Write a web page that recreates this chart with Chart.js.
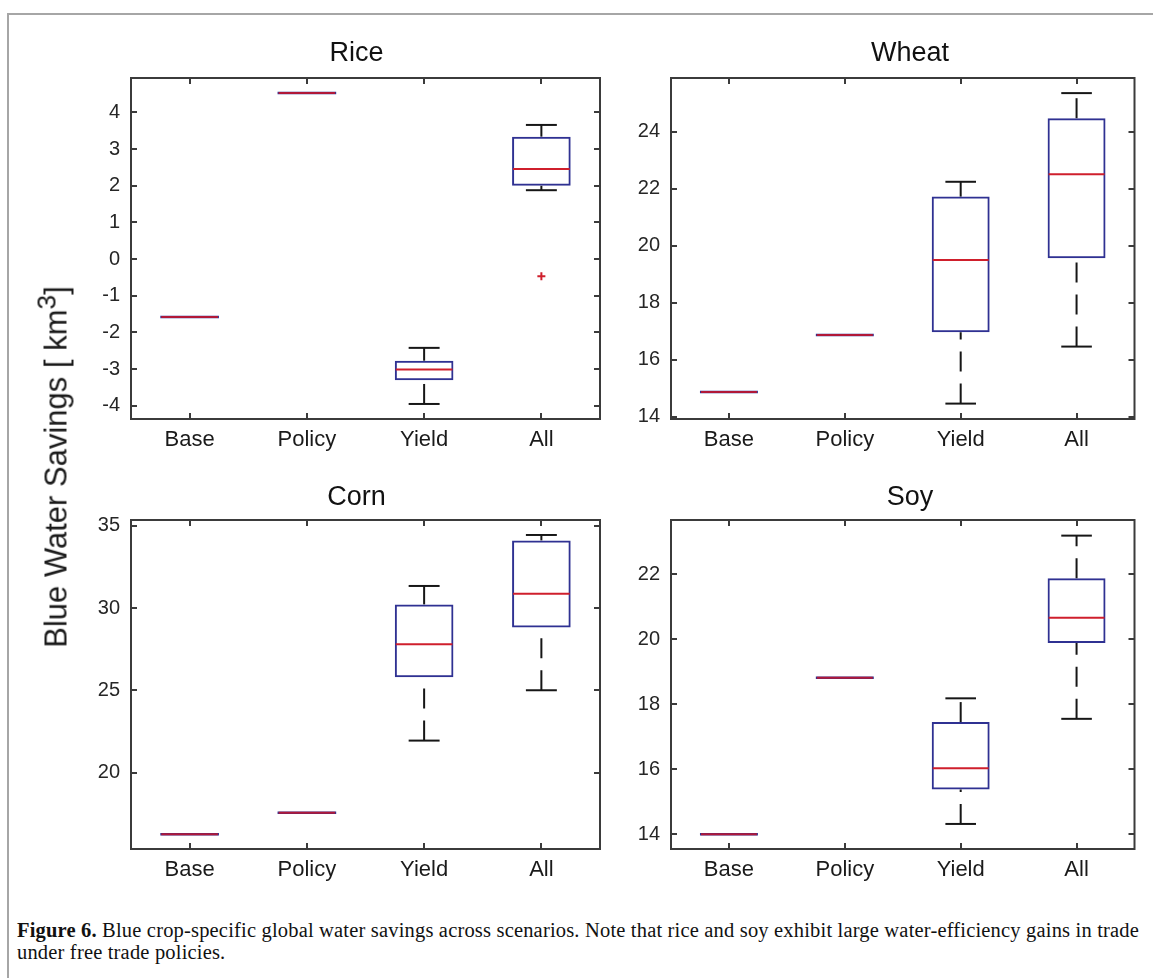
<!DOCTYPE html>
<html>
<head>
<meta charset="utf-8">
<script src="https://cdn.jsdelivr.net/npm/chart.js@4.4.1/dist/chart.umd.min.js"></script>
<style>
html,body{margin:0;padding:0;background:#fff;overflow:hidden;width:1153px;height:978px;position:relative;}
#frame{position:absolute;left:7px;top:13px;width:1200px;height:1000px;border-left:2px solid #a6a6a6;border-top:2px solid #a6a6a6;}
canvas{position:absolute;}
#ylab{position:absolute;left:56px;top:467px;transform:translate(-50%,-50%) rotate(-90deg);white-space:nowrap;font-family:'Liberation Sans',Arial,sans-serif;font-size:31px;line-height:1;color:#1a1a1a;}
#ylab sup{font-size:0.85em;vertical-align:0.42em;line-height:0;}
#caption{position:absolute;left:17px;top:919px;font-family:'Liberation Serif','Times New Roman',serif;font-size:20.5px;line-height:22px;color:#111;}
#caption div{white-space:nowrap;}
</style>
</head>
<body>
<div id="frame"></div>
<canvas id="cRice"></canvas>
<canvas id="cWheat"></canvas>
<canvas id="cCorn"></canvas>
<canvas id="cSoy"></canvas>
<div id="ylab">Blue Water Savings [ km<sup>3</sup>]</div>
<div id="caption"><div id="cap1"><b>Figure 6.</b> Blue crop-specific global water savings across scenarios. Note that rice and soy exhibit large water-efficiency gains in trade</div><div id="cap2">under free trade policies.</div></div>
<script>
// ---- categories ----
const categories = ['Base', 'Policy', 'Yield', 'All'];

// ---- Rice ----
const riceLow      = [-1.58, 4.53, -3.95, 1.88];
const riceQ1       = [-1.58, 4.53, -3.30, 2.00];
const riceMedian   = [-1.58, 4.53, -3.01, 2.46];
const riceQ3       = [-1.58, 4.53, -2.77, 3.34];
const riceHigh     = [-1.58, 4.53, -2.42, 3.66];
const riceOutliers = [null, null, null, -0.47];
const riceTicks    = [-4, -3, -2, -1, 0, 1, 2, 3, 4];
const riceRange    = [-4.36, 4.94];

// ---- Wheat ----
const wheatLow      = [14.87, 16.87, 14.46, 16.46];
const wheatQ1       = [14.87, 16.87, 16.96, 19.56];
const wheatMedian   = [14.87, 16.87, 19.50, 22.50];
const wheatQ3       = [14.87, 16.87, 21.72, 24.47];
const wheatHigh     = [14.87, 16.87, 22.24, 25.35];
const wheatOutliers = [null, null, null, null];
const wheatTicks    = [14, 16, 18, 20, 22, 24];
const wheatRange    = [13.92, 25.88];

// ---- Corn ----
const cornLow      = [16.24, 17.55, 21.94, 25.00];
const cornQ1       = [16.24, 17.55, 25.79, 28.81];
const cornMedian   = [16.24, 17.55, 27.80, 30.87];
const cornQ3       = [16.24, 17.55, 30.22, 34.11];
const cornHigh     = [16.24, 17.55, 31.34, 34.44];
const cornOutliers = [null, null, null, null];
const cornTicks    = [20, 25, 30, 35];
const cornRange    = [15.35, 35.35];

// ---- Soy ----
const soyLow      = [14.00, 18.81, 14.32, 17.55];
const soyQ1       = [14.00, 18.81, 15.38, 19.88];
const soyMedian   = [14.00, 18.81, 16.03, 20.66];
const soyQ3       = [14.00, 18.81, 17.45, 21.87];
const soyHigh     = [14.00, 18.81, 18.18, 23.18];
const soyOutliers = [null, null, null, null];
const soyTicks    = [14, 16, 18, 20, 22];
const soyRange    = [13.55, 23.66];

// ---- styles ----
const BLUE = '#2f3192';
const RED = '#cf1f2c';
const BLACK = '#161616';
const AXIS = '#3b3b3b';
const FONT = "'Liberation Sans', Arial, Helvetica, sans-serif";

const boxPlugin = {
  id: 'boxWhiskers',
  afterDatasetsDraw(chart, args, opts) {
    const ctx = chart.ctx;
    const x = chart.scales.x, y = chart.scales.y;
    const s = opts.stats;
    const catW = x.getPixelForValue(1) - x.getPixelForValue(0);
    const half = catW * 0.25;
    const capHalf = catW * 0.132;
    ctx.save();
    ctx.lineCap = 'butt';
    for (let i = 0; i < categories.length; i++) {
      const cx = x.getPixelForValue(i);
      const pLow = y.getPixelForValue(s.low[i]);
      const pQ1 = y.getPixelForValue(s.q1[i]);
      const pMed = y.getPixelForValue(s.med[i]);
      const pQ3 = y.getPixelForValue(s.q3[i]);
      const pHigh = y.getPixelForValue(s.high[i]);
      ctx.strokeStyle = BLACK;
      ctx.lineWidth = 2;
      ctx.setLineDash([20, 12]);
      if (s.q1[i] > s.low[i]) {
        ctx.beginPath(); ctx.moveTo(cx, pLow); ctx.lineTo(cx, pQ1); ctx.stroke();
      }
      if (s.high[i] > s.q3[i]) {
        ctx.beginPath(); ctx.moveTo(cx, pQ3); ctx.lineTo(cx, pHigh); ctx.stroke();
      }
      ctx.setLineDash([]);
      if (s.q1[i] > s.low[i]) {
        ctx.beginPath(); ctx.moveTo(cx - capHalf, pLow); ctx.lineTo(cx + capHalf, pLow); ctx.stroke();
      }
      if (s.high[i] > s.q3[i]) {
        ctx.beginPath(); ctx.moveTo(cx - capHalf, pHigh); ctx.lineTo(cx + capHalf, pHigh); ctx.stroke();
      }
      const flat = s.q1[i] === s.q3[i];
      if (flat) {
        ctx.strokeStyle = BLUE; ctx.lineWidth = 2.5;
        ctx.beginPath(); ctx.moveTo(cx - half, pMed); ctx.lineTo(cx + half, pMed); ctx.stroke();
      }
      ctx.strokeStyle = flat ? 'rgba(200,20,40,0.85)' : RED;
      ctx.lineWidth = 2;
      ctx.beginPath(); ctx.moveTo(cx - half + 1, pMed); ctx.lineTo(cx + half - 1, pMed); ctx.stroke();
    }
    ctx.restore();
  },
  afterDraw(chart) {
    const ctx = chart.ctx;
    const a = chart.chartArea;
    const x = chart.scales.x, y = chart.scales.y;
    const tl = 6;
    ctx.save();
    ctx.strokeStyle = AXIS;
    ctx.lineWidth = 2;
    ctx.beginPath();
    y.ticks.forEach(t => {
      const py = Math.round(y.getPixelForValue(t.value));
      ctx.moveTo(a.left, py); ctx.lineTo(a.left + tl, py);
      ctx.moveTo(a.right, py); ctx.lineTo(a.right - tl, py);
    });
    for (let i = 0; i < categories.length; i++) {
      const px = Math.round(x.getPixelForValue(i));
      ctx.moveTo(px, a.bottom); ctx.lineTo(px, a.bottom - tl);
      ctx.moveTo(px, a.top); ctx.lineTo(px, a.top + tl);
    }
    ctx.stroke();
    ctx.strokeRect(a.left, a.top, a.right - a.left, a.bottom - a.top);
    ctx.restore();
  }
};

function makeChart(id, title, stats, outliers, ticks, range, lay) {
  const cv = document.getElementById(id);
  cv.width = lay.w; cv.height = lay.h;
  cv.style.left = lay.left + 'px'; cv.style.top = lay.top + 'px';
  cv.style.width = lay.w + 'px'; cv.style.height = lay.h + 'px';
  return new Chart(cv, {
    data: {
      labels: categories,
      datasets: [
        {
          type: 'bar',
          data: categories.map((c, i) => [stats.q1[i], stats.q3[i]]),
          backgroundColor: 'rgba(0,0,0,0)',
          borderColor: BLUE,
          borderWidth: 2,
          borderSkipped: false,
          barPercentage: 0.5,
          categoryPercentage: 1.0,
          order: 2
        },
        {
          type: 'line',
          data: outliers,
          showLine: false,
          pointStyle: 'cross',
          pointRadius: 4,
          pointBorderWidth: 2,
          borderColor: RED,
          backgroundColor: RED,
          order: 1
        }
      ]
    },
    options: {
      responsive: false,
      animation: false,
      devicePixelRatio: 1,
      layout: { padding: { left: lay.padL, right: lay.padR, top: 0, bottom: 0 } },
      plugins: {
        legend: { display: false },
        tooltip: { enabled: false },
        title: {
          display: true, text: title, color: '#111',
          font: { family: FONT, size: 27, weight: 'normal', lineHeight: 1 },
          padding: { top: lay.tTop, bottom: lay.tBot }
        },
        boxWhiskers: { stats: stats }
      },
      scales: {
        x: {
          type: 'category',
          offset: true,
          grid: { display: false, drawTicks: false },
          border: { display: false },
          ticks: { color: '#1a1a1a', font: { family: FONT, size: 22 }, padding: 8, autoSkip: false, maxRotation: 0 },
          afterFit: s => { s.height = 45; }
        },
        y: {
          type: 'linear', position: 'left',
          min: range[0], max: range[1],
          grid: { display: false, drawTicks: false },
          border: { display: false },
          ticks: { color: '#262626', font: { family: FONT, size: 20 }, padding: 11, autoSkip: false },
          afterBuildTicks: s => { s.ticks = ticks.map(v => ({ value: v })); },
          afterFit: s => { s.width = lay.wl; }
        },
        y2: {
          type: 'linear', position: 'right',
          min: range[0], max: range[1],
          grid: { display: false, drawTicks: false },
          border: { display: false },
          ticks: { display: false },
          afterFit: s => { s.width = lay.wr; }
        }
      }
    },
    plugins: [boxPlugin]
  });
}

const layLeftTop  = { left: 60,  top: 20,  w: 567, h: 444, padL: 26, padR: 0, wl: 45, wr: 27,   tTop: 20, tBot: 11 };
const layRightTop = { left: 620, top: 20,  w: 569, h: 444, padL: 11, padR: 0, wl: 40, wr: 54.5, tTop: 20, tBot: 11 };
const layLeftBot  = { left: 60,  top: 465, w: 567, h: 429, padL: 26, padR: 0, wl: 45, wr: 27,   tTop: 19, tBot: 9 };
const layRightBot = { left: 620, top: 465, w: 569, h: 429, padL: 11, padR: 0, wl: 40, wr: 54.5, tTop: 19, tBot: 9 };

makeChart('cRice', 'Rice',
  { low: riceLow, q1: riceQ1, med: riceMedian, q3: riceQ3, high: riceHigh },
  riceOutliers, riceTicks, riceRange, layLeftTop);
makeChart('cWheat', 'Wheat',
  { low: wheatLow, q1: wheatQ1, med: wheatMedian, q3: wheatQ3, high: wheatHigh },
  wheatOutliers, wheatTicks, wheatRange, layRightTop);
makeChart('cCorn', 'Corn',
  { low: cornLow, q1: cornQ1, med: cornMedian, q3: cornQ3, high: cornHigh },
  cornOutliers, cornTicks, cornRange, layLeftBot);
makeChart('cSoy', 'Soy',
  { low: soyLow, q1: soyQ1, med: soyMedian, q3: soyQ3, high: soyHigh },
  soyOutliers, soyTicks, soyRange, layRightBot);

// fit caption line width to the reference
(function fitCaption() {
  const c1 = document.getElementById('cap1');
  const c2 = document.getElementById('cap2');
  const target = 1122;
  const w = c1.getBoundingClientRect().width;
  const n = c1.textContent.length;
  const ls = (target - w) / n;
  c1.style.letterSpacing = ls + 'px';
  c2.style.letterSpacing = ls + 'px';
})();
</script>
</body>
</html>
